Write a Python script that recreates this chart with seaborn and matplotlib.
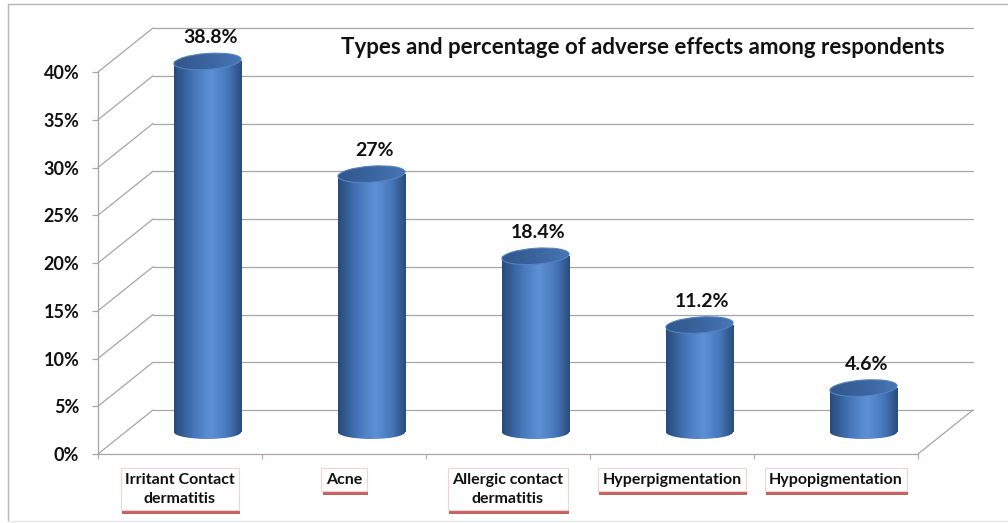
import numpy as np
import pandas as pd
import matplotlib
matplotlib.use("Agg")
import matplotlib.pyplot as plt
import matplotlib.transforms as mtransforms
import matplotlib.patheffects as pe
from matplotlib.patches import Ellipse
from matplotlib.lines import Line2D
from matplotlib.colors import LinearSegmentedColormap
import seaborn as sns

# ---- data -------------------------------------------------------------
categories = ["Irritant Contact\ndermatitis", "Acne", "Allergic contact\ndermatitis",
              "Hyperpigmentation", "Hypopigmentation"]
percentages = [38.8, 27.0, 18.4, 11.2, 4.6]
value_labels = ["38.8%", "27%", "18.4%", "11.2%", "4.6%"]
y_ticks = [0, 5, 10, 15, 20, 25, 30, 35, 40]
title = "Types and percentage of adverse effects among respondents"

# ---- style ------------------------------------------------------------
sns.set_theme(style="white")
plt.rcParams["font.family"] = ["Lato", "DejaVu Sans"]

DPI = 100
W_PX, H_PX = 1008, 523
fig = plt.figure(figsize=(W_PX / DPI, H_PX / DPI), dpi=DPI)
fig.patch.set_facecolor("white")

# front plane of the 3-D box
ax = fig.add_axes([98 / W_PX, 69 / H_PX, 820 / W_PX, 382 / H_PX])
ax.set_facecolor("none")

GRID = "#a6a6a6"
DEPTH = (55, 44)          # pixel offset of the back wall
MID = (27.5, 22)          # pixel offset where the cylinders stand
CAT_PX = 820 / 5          # pixels per category slot
BAR_W = 0.41              # cylinder width in category units
CAP_H = 16                # vertical size of the elliptical caps, pixels

df = pd.DataFrame({"category": categories, "pct": percentages})
sns.barplot(data=df, x="category", y="pct", width=BAR_W, color="#4a7cc0",
            saturation=1, edgecolor="none", ax=ax, zorder=3)
ax.set_xlim(-0.5, 4.5)
ax.set_ylim(0, 40)


def shifted(dx, dy):
    """Data transform pushed back into the depth of the box."""
    return ax.transData + mtransforms.ScaledTranslation(dx / DPI, dy / DPI, fig.dpi_scale_trans)


def anchored(x, y, dx, dy):
    """Pixel-unit transform whose origin sits at data point (x, y) plus a depth shift."""
    return (mtransforms.Affine2D()
            + mtransforms.ScaledTranslation(x, y, ax.transData)
            + mtransforms.ScaledTranslation(dx / DPI, dy / DPI, fig.dpi_scale_trans))


back = shifted(*DEPTH)
mid = shifted(*MID)

# ---- back wall gridlines and floor edges --------------------------------
for t in y_ticks:
    ax.plot([-0.5, 4.5], [t, t], transform=back, color=GRID, lw=0.9,
            clip_on=False, zorder=0)
    ax.add_line(Line2D([0, DEPTH[0]], [0, DEPTH[1]], transform=anchored(-0.5, t, 0, 0),
                       color=GRID, lw=0.9, clip_on=False, zorder=0))
ax.add_line(Line2D([0, DEPTH[0]], [0, DEPTH[1]], transform=anchored(4.5, 0, 0, 0),
                   color=GRID, lw=0.9, clip_on=False, zorder=0))

# ---- cylinders --------------------------------------------------------
body_cmap = LinearSegmentedColormap.from_list(
    "cyl", [(0.0, "#284a7a"), (0.3, "#4677ba"), (0.55, "#5d91d6"),
            (0.8, "#4576b8"), (1.0, "#2a4c7c")])
top_cmap = LinearSegmentedColormap.from_list(
    "cap", [(0.0, "#31568b"), (0.6, "#3d68a3"), (1.0, "#4877b6")])
grad = np.linspace(0, 1, 256).reshape(1, -1)

bars = sorted(ax.patches, key=lambda p: p.get_x())
for bar, v, lab in zip(bars, percentages, value_labels):
    bar.set_transform(mid)
    bar.set_clip_on(False)
    x0, w, h = bar.get_x(), bar.get_width(), bar.get_height()
    cx = x0 + w / 2
    wpx = w * CAT_PX

    # rounded bottom
    base = Ellipse((0, 0), wpx, CAP_H - 2, transform=anchored(cx, 0, *MID),
                   facecolor="none", edgecolor="none")
    ax.add_patch(base)
    im = ax.imshow(grad, cmap=body_cmap, aspect="auto", interpolation="bilinear",
                   extent=(-wpx / 2, wpx / 2, -CAP_H / 2, CAP_H / 2),
                   transform=anchored(cx, 0, *MID), zorder=2)
    im.set_clip_path(base)
    im.set_clip_box(fig.bbox)

    # shaded body
    im = ax.imshow(grad, cmap=body_cmap, aspect="auto", interpolation="bilinear",
                   extent=(x0, x0 + w, 0, h), transform=mid, zorder=3)
    im.set_clip_on(False)

    # top cap
    cap_tr = anchored(cx, h, *MID)
    cap = Ellipse((0, 0), wpx, CAP_H, angle=4, transform=cap_tr,
                  facecolor="none", edgecolor="#5582c0", lw=0.8, zorder=5)
    ax.add_patch(cap)
    cap.set_clip_on(False)
    im = ax.imshow(grad, cmap=top_cmap, aspect="auto", interpolation="bilinear",
                   extent=(-wpx / 2, wpx / 2, -CAP_H / 2 - 3, CAP_H / 2 + 3),
                   transform=cap_tr, zorder=4)
    im.set_clip_path(cap)
    im.set_clip_box(fig.bbox)

    # value label
    ax.annotate(lab, xy=(cx, h), xycoords=mid, xytext=(2, 17), textcoords="offset points",
                ha="center", va="center", fontsize=14, fontweight="bold",
                color="#111111", annotation_clip=False, zorder=6)

ax.set_xlim(-0.5, 4.5)
ax.set_ylim(0, 40)

# ---- axes -------------------------------------------------------------
for side in ("top", "right"):
    ax.spines[side].set_visible(False)
for side in ("left", "bottom"):
    ax.spines[side].set_color(GRID)
    ax.spines[side].set_linewidth(0.9)

ax.set_yticks(y_ticks)
ax.set_yticklabels([f"{t}%" for t in y_ticks], fontsize=13, fontweight="bold", color="#111111")
ax.set_xticks(np.arange(-0.5, 5.0, 1.0))
ax.set_xticklabels([])
ax.tick_params(axis="y", direction="out", length=4.5, width=0.9, color=GRID, pad=9, left=True)
ax.tick_params(axis="x", direction="out", length=3.5, width=0.9, color="#d9a0a0", bottom=True)
ax.set_xlabel("")
ax.set_ylabel("")

# category labels in boxed callouts with a red under-shadow
for i, cat in enumerate(categories):
    t = ax.annotate(cat, xy=(i, 0), xycoords="data", xytext=(0, -13.5),
                    textcoords="offset points", ha="center", va="top",
                    fontsize=11.5, fontweight="bold", linespacing=1.45,
                    color="#111111", annotation_clip=False, zorder=7,
                    bbox=dict(boxstyle="square,pad=0.28", fc="white", ec="#f2d2d2", lw=0.8))
    t.get_bbox_patch().set_path_effects([
        pe.SimplePatchShadow(offset=(0.8, -2.8), shadow_rgbFace="#c0504d", alpha=0.9),
        pe.Normal(),
    ])

# title
fig.text(643 / W_PX, 1 - 48 / H_PX, title, ha="center", va="center",
         fontsize=16, fontweight="bold", color="#111111")

# outer chart frame
frame = dict(color="#b5b5b5", lw=1.0, transform=fig.transFigure)
fig.add_artist(Line2D([8 / W_PX, 1.0], [1 - 4 / H_PX, 1 - 4 / H_PX], **frame))
fig.add_artist(Line2D([8 / W_PX, 8 / W_PX], [1 - 4 / H_PX, 2 / H_PX], **frame))
fig.add_artist(Line2D([8 / W_PX, 1.0], [2 / H_PX, 2 / H_PX], color="#e6e6e6", lw=1.0,
                      transform=fig.transFigure))

fig.savefig("out.png", dpi=DPI, facecolor="white")
